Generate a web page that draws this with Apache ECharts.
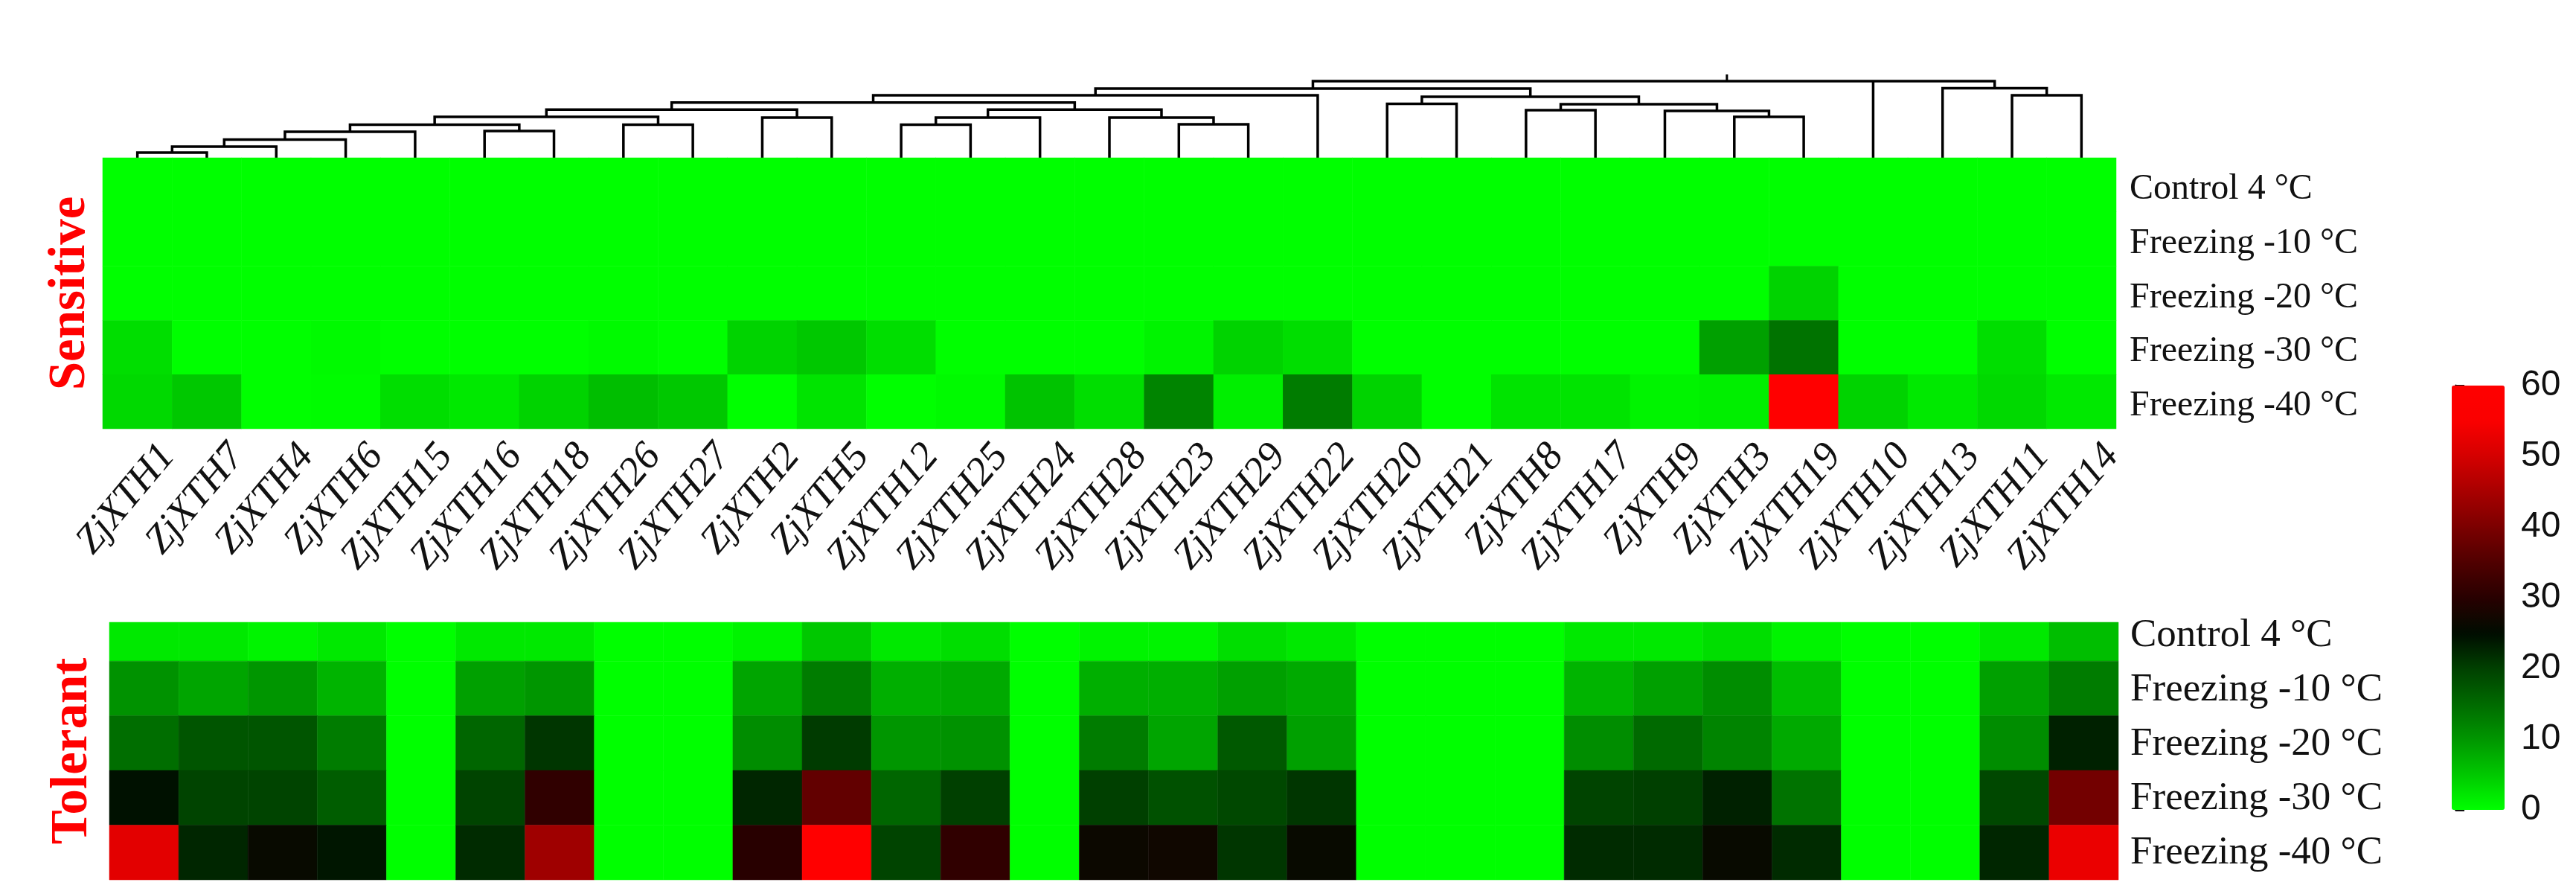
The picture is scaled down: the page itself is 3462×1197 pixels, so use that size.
<!DOCTYPE html>
<html><head><meta charset="utf-8">
<script src="https://cdn.jsdelivr.net/npm/echarts@6/dist/echarts.min.js"></script>
<style>html,body{margin:0;padding:0;background:#fff}#c{width:3462px;height:1197px}</style>
</head><body><div id="c"></div>
<script>
// ---------- data ----------
const genes = ['ZjXTH1','ZjXTH7','ZjXTH4','ZjXTH6','ZjXTH15','ZjXTH16','ZjXTH18','ZjXTH26','ZjXTH27',
  'ZjXTH2','ZjXTH5','ZjXTH12','ZjXTH25','ZjXTH24','ZjXTH28','ZjXTH23','ZjXTH29','ZjXTH22',
  'ZjXTH20','ZjXTH21','ZjXTH8','ZjXTH17','ZjXTH9','ZjXTH3','ZjXTH19','ZjXTH10','ZjXTH13','ZjXTH11','ZjXTH14'];
const conditions = ['Control 4 °C','Freezing -10 °C','Freezing -20 °C','Freezing -30 °C','Freezing -40 °C'];
const colorTicks = [0, 10, 20, 30, 40, 50, 60];

// Sensitive genotype
const sensCtrl = [0,0,0,0,0,0,0,0,0,0,0,0,0,0,0,0,0,0,0,0,0,0,0,0,0,0,0,0,0];
const sens10   = [0,0,0,0,0,0,0,0,0,0,0,0,0,0,0,0,0,0,0,0,0,0,0,0,0,0,0,0,0];
const sens20   = [0,0,0,0,0,0,0,0,0,0,0,0,0,0,0,0,0,0,0,0,0,0,0,0,4,0,0,0,0];
const sens30   = [3,0,0,0.5,0,0,0,0.5,0,4,5,3,0,0,0,1,4,3,0,0,0,0,0,9,14,0,0,3,0];
const sens40   = [3.5,5,0,0.3,3,2,4,6,5,0,2.5,0,0.5,5.5,3,12,1.5,13,4,0,2.5,2.5,1,1.5,60,4,2,3.5,2];

// Tolerant genotype
const tolCtrl = [2,2,1,2,0,2,2,0,0,1,5,2,3,0,1,1,3,2,0,0,0,2,2,3,1,0,0,2,6];
const tol10   = [10.5,8.5,10,7,0,9,10,0,0,8.5,13,7.5,8,0,7.5,7.5,9,8,0,0,0,7,9,11,6,0,0,9,13];
const tol20   = [14.5,17.5,17.5,13,0,15.5,21,0,0,11,20.5,10,10.5,0,13,8.5,17,9,0,0,0,11,15,12,8,0,0,11,23];
const tol30   = [24.5,19.5,19.5,16.5,0,19.5,31,0,0,22.5,37,15.5,20,0,20,18,19,21,0,0,0,19.5,20,23,14,0,0,19,39];
const tol40   = [52,22.5,26,24,0,22,44,0,0,30,60,19.5,31,0,26.5,27,21,26,0,0,0,22,22,26,22,0,0,22.5,53];

// dendrogram merges: [child, child, (child,) height]; numbers = leaf index, 'nK' = K-th merge
const merges = [
  [0, 1, 7], ['n0', 2, 15], ['n1', 3, 24.5], ['n2', 4, 35], [5, 6, 36],
  ['n3', 'n4', 44.5], [7, 8, 44.5], ['n5', 'n6', 55], [9, 10, 54], ['n7', 'n8', 64.7],
  [11, 12, 44.5], ['n10', 13, 54], [15, 16, 45], [14, 'n12', 54], ['n11', 'n13', 64.7],
  ['n9', 'n14', 74.2], ['n15', 17, 84], [18, 19, 72.5], [20, 21, 64], [23, 24, 55],
  [22, 'n19', 63], ['n18', 'n20', 72], ['n17', 'n21', 82], ['n16', 'n22', 93],
  [27, 28, 84], [26, 'n24', 93.4], ['n23', 25, 'n25', 103]
];

// ---------- build ----------
const sensRows = [sensCtrl, sens10, sens20, sens30, sens40];
const tolRows = [tolCtrl, tol10, tol20, tol30, tol40];
const sensData = [], tolData = [];
sensRows.forEach((row, r) => row.forEach((v, c) => sensData.push([c, r, v])));
tolRows.forEach((row, r) => row.forEach((v, c) => tolData.push([c, r, v])));

const nodePos = [];
const dendroData = merges.map((m, i) => {
  const get = k => typeof k === 'number' ? [k, 0] : nodePos[+k.slice(1)];
  const h = m[m.length - 1];
  const kids = m.slice(0, -1).map(get);
  nodePos[i] = [kids.reduce((s, k) => s + k[0], 0) / kids.length, h];
  const a = kids[0], b = kids[kids.length - 1];
  const mid = kids.length === 3 ? kids[1] : [0, 0];
  return [a[0], b[0], a[1], b[1], h, i === merges.length - 1 ? 1 : 0, mid[0], mid[1], kids.length === 3 ? 1 : 0, nodePos[i][0]];
});

const serif = 'Liberation Serif';
const G = { left: 138, width: 2706 };
const GB = { left: 147, width: 2700 };

const option = {
  backgroundColor: '#ffffff',
  animation: false,
  grid: [
    { left: G.left, width: G.width, top: 92, height: 120 },       // dendrogram
    { left: G.left, width: G.width, top: 212, height: 364 },      // sensitive
    { left: GB.left, width: GB.width, top: 836, height: 346 },    // tolerant
    { left: G.left + 41, width: G.width, top: 500, height: 76 },  // gene labels
    { left: 3300, width: 66, top: 518, height: 570 },             // colour scale axis
    { left: GB.left, width: GB.width, top: 818, height: 365 },    // tolerant row labels
    { left: G.left, width: G.width, top: 218, height: 364 }       // sensitive row labels
  ],
  xAxis: [
    { gridIndex: 0, type: 'value', min: -0.5, max: 28.5, show: false },
    { gridIndex: 1, type: 'category', data: genes, show: false },
    { gridIndex: 2, type: 'value', min: -0.5, max: 28.5, show: false },
    { gridIndex: 3, type: 'category', data: genes, axisLine: { show: false }, axisTick: { show: false },
      axisLabel: { interval: 0, rotate: 50, margin: 28, fontFamily: serif, fontStyle: 'italic', fontSize: 54, color: '#111' } },
    { gridIndex: 4, type: 'value', show: false },
    { gridIndex: 5, type: 'value', show: false },
    { gridIndex: 6, type: 'value', show: false }
  ],
  yAxis: [
    { gridIndex: 0, type: 'value', min: 0, max: 120, show: false },
    { gridIndex: 1, type: 'category', data: conditions, inverse: true, show: false },
    { gridIndex: 1, type: 'category', data: conditions, position: 'left', name: 'Sensitive',
      nameLocation: 'middle', nameGap: 8,
      nameTextStyle: { fontFamily: serif, fontWeight: 'bold', fontSize: 69, color: '#f00' },
      axisLine: { show: false }, axisTick: { show: false }, axisLabel: { show: false } },
    { gridIndex: 2, type: 'value', min: 0.29, max: 5, inverse: true, position: 'left', name: 'Tolerant',
      nameLocation: 'middle', nameGap: 14,
      nameTextStyle: { fontFamily: serif, fontWeight: 'bold', fontSize: 69, color: '#f00' },
      axisLine: { show: false }, axisTick: { show: false }, axisLabel: { show: false }, splitLine: { show: false } },
    { gridIndex: 5, type: 'category', data: conditions, inverse: true, position: 'right',
      axisLine: { show: false }, axisTick: { show: false },
      axisLabel: { margin: 16, fontFamily: serif, fontSize: 53, color: '#111' } },
    { gridIndex: 3, type: 'value', show: false },
    { gridIndex: 4, type: 'value', min: 0, max: 60, interval: 10, position: 'right',
      axisLine: { show: true, lineStyle: { color: '#111', width: 3 } },
      axisTick: { show: true, length: 12, lineStyle: { color: '#111', width: 3 } },
      splitLine: { show: false },
      axisLabel: { margin: 22, fontFamily: 'Liberation Sans', fontSize: 48, color: '#111' } },
    { gridIndex: 6, type: 'category', data: conditions, inverse: true, position: 'right',
      axisLine: { show: false }, axisTick: { show: false },
      axisLabel: { margin: 18, fontFamily: serif, fontSize: 48, color: '#111' } }
  ],
  visualMap: {
    type: 'continuous', min: 0, max: 60, seriesIndex: [1, 2], dimension: 2,
    orient: 'vertical', left: 3295, top: 518, itemWidth: 71, itemHeight: 570,
    padding: 0, calculable: false, text: null, showLabel: false,
    inRange: { color: ['#00ff00','#00c800','#009600','#006a00','#004000','#000c00',
                       '#280000','#500000','#7c0000','#a80000','#d40000','#fa0000','#ff0000'] }
  },
  series: [
    { type: 'custom', xAxisIndex: 0, yAxisIndex: 0, data: dendroData, silent: true,
      encode: { x: [0, 1], y: [2, 3, 4] },
      renderItem: function (params, api) {
        const xl = api.value(0), xr = api.value(1), hl = api.value(2), hr = api.value(3), h = api.value(4);
        const pts = [api.coord([xl, hl]), api.coord([xl, h]), api.coord([xr, h]), api.coord([xr, hr])];
        const st = { stroke: '#000', lineWidth: 3.5, fill: null };
        const children = [{ type: 'polyline', shape: { points: pts }, style: st }];
        if (api.value(8) === 1) {
          const a = api.coord([api.value(6), api.value(7)]), b = api.coord([api.value(6), h]);
          children.push({ type: 'line', shape: { x1: a[0], y1: a[1], x2: b[0], y2: b[1] }, style: st });
        }
        if (api.value(5) === 1) {
          const xm = api.value(9);
          const a = api.coord([xm, h]), b = api.coord([xm, h + 9]);
          children.push({ type: 'line', shape: { x1: a[0], y1: a[1], x2: b[0], y2: b[1] },
            style: { stroke: '#000', lineWidth: 3 } });
        }
        return { type: 'group', children: children };
      } },
    { type: 'heatmap', xAxisIndex: 1, yAxisIndex: 1, data: sensData, silent: true,
      itemStyle: { borderWidth: 0 } },
    { type: 'custom', xAxisIndex: 2, yAxisIndex: 3, data: tolData, silent: true,
      encode: { x: 0, y: 1 },
      renderItem: function (params, api) {
        const c = api.value(0), r = api.value(1);
        const p0 = api.coord([c - 0.5, r]), p1 = api.coord([c + 0.5, r + 1]);
        const rect = echarts.graphic.clipRectByRect(
          { x: p0[0], y: p0[1], width: p1[0] - p0[0], height: p1[1] - p0[1] },
          { x: params.coordSys.x, y: params.coordSys.y, width: params.coordSys.width, height: params.coordSys.height });
        if (!rect) return null;
        const col = api.visual('color');
        return { type: 'rect', shape: rect, style: { fill: col, stroke: col, lineWidth: 0.5 } };
      } }
  ]
};

const chart = echarts.init(document.getElementById('c'), null, { renderer: 'canvas' });
chart.setOption(option);
</script></body></html>
